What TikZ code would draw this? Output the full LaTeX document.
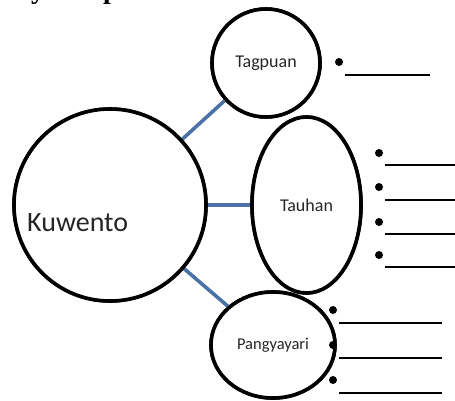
\documentclass[tikz,border=0pt]{standalone}
\usepackage{fontspec}
\setmainfont{Carlito}
\newfontfamily\headfont{Liberation Serif}
\usetikzlibrary{shapes.geometric}
\definecolor{linkblue}{HTML}{4A72A6}
\tikzset{
  topic/.style={draw=black, line width=3.6pt, fill=white, inner sep=0pt},
  circ/.style={topic, circle},
  oval/.style={topic, ellipse},
  link/.style={draw=linkblue, line width=3.6pt},
  dotmark/.style={circle, fill=black, inner sep=0pt, minimum size=8pt},
  blank/.style={draw=black, line width=1.3pt},
  lbl/.style={text=black!85, inner sep=0pt}
}
\begin{document}
\begin{tikzpicture}[x=1pt,y=-1pt]
\useasboundingbox (0,0) rectangle (455,400);
\clip (0,0) rectangle (455,400);
% cut-off heading
\node[anchor=base, inner sep=0pt, font=\headfont\bfseries\fontsize{28}{30}\selectfont] (hy) at (38,-1.5) {y};
\node[anchor=base, inner sep=0pt, font=\headfont\bfseries\fontsize{28}{30}\selectfont] (hp) at (111,-1.5) {p};
% circles
\node[circ, minimum size=192pt] (kuwento) at (110,205) {};
\node[circ, minimum size=108pt] (tagpuan) at (266,63) {};
\node[oval, minimum width=109pt, minimum height=176pt] (tauhan) at (306.5,205) {};
\node[oval, minimum width=124pt, minimum height=106pt] (pangyayari) at (273,345) {};
% connectors
\begin{scope}[on background layer/.try]
\end{scope}
\draw[link] (kuwento) -- (tagpuan);
\draw[link] (kuwento) -- (tauhan);
\draw[link] (kuwento) -- (pangyayari);
% redraw outlines over connector ends
\node[circ, minimum size=192pt] at (110,205) {};
\node[circ, minimum size=108pt] at (266,63) {};
\node[oval, minimum width=109pt, minimum height=176pt] at (306.5,205) {};
\node[oval, minimum width=124pt, minimum height=106pt] at (273,345) {};
% labels
\node[lbl, anchor=west, font=\fontsize{28}{30}\selectfont] (kwtext) at (27,223) {Kuwento};
\node[lbl, font=\fontsize{18}{20}\selectfont] (tgtext) at (tagpuan) {Tagpuan};
\node[lbl, font=\fontsize{18}{20}\selectfont] (thtext) at (tauhan) {Tauhan};
\node[lbl, font=\fontsize{16.5}{18}\selectfont] (pytext) at (pangyayari) {Pangyayari};
% Tagpuan bullets
\node[dotmark] (tg1) at (339,62) {};
\coordinate (tg1a) at (345,75); \coordinate (tg1b) at (430,75);
\draw[blank, line width=2pt] (tg1a) -- (tg1b);
% Tauhan bullets
\foreach \i/\yd/\yl in {1/153/165, 2/187/200, 3/222/234, 4/255/267}{
  \node[dotmark] (th\i) at (379,\yd) {};
  \coordinate (th\i a) at (385,\yl); \coordinate (th\i b) at (456,\yl);
  \draw[blank] (th\i a) -- (th\i b);
}
% Pangyayari bullets
\foreach \i/\yd/\yl in {1/310/323, 2/345/358, 3/380/393}{
  \node[dotmark] (py\i) at (333,\yd) {};
  \coordinate (py\i a) at (339,\yl); \coordinate (py\i b) at (442,\yl);
  \draw[blank] (py\i a) -- (py\i b);
}
\end{tikzpicture}
\end{document}
